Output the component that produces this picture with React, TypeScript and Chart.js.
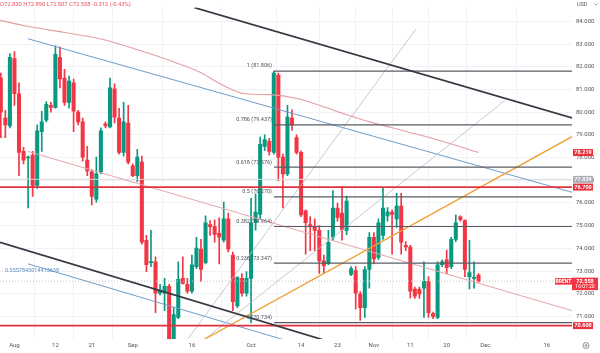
import React, { useEffect, useRef } from "react";
import { Chart, registerables } from "chart.js";
Chart.register(...registerables);

// ---- candle data (daily bars incl. Sunday sessions), index = bar number ----
const opens = [81.5,79.74,79.39,82.36,80.81,78.27,77.98,78.1,76.77,79.14,79.65,80.3,80.21,82.41,81.5,80.43,81.29,80.0,79.57,77.89,77.37,76.17,77.37,79.48,79.35,81.03,79.74,78.23,79.52,77.63,77.2,77.8,74.36,73.37,73.41,72.03,72.03,72.33,69.6,70.96,72.68,72.42,72.12,73.2,73.97,73.37,75.05,74.96,74.66,74.36,75.3,73.71,71.47,72.68,72.03,72.68,75.13,75.5,78.49,78.71,78.23,81.63,78.02,77.28,79.74,78.88,78.23,75.65,75.05,74.96,74.79,73.45,73.33,74.49,75.78,75.56,74.79,72.85,73.02,71.99,71.39,73.07,74.49,73.6,74.57,75.43,75.6,75.3,75.86,74.14,74.06,72.21,72.2,72.25,72.55,71.13,70.96,73.28,73.5,73.2,74.4,75.39,75.22,72.76,72.68,72.83];
const highs = [81.72,80.08,82.58,82.67,81.29,78.45,78.06,78.27,79.44,80.04,80.47,80.43,82.92,82.88,81.89,81.59,81.46,80.08,79.74,78.49,77.46,78.02,79.31,79.57,81.5,81.25,80.17,80.43,80.3,77.72,78.36,78.06,74.57,74.79,73.63,72.42,72.68,72.42,71.39,73.41,73.63,72.68,73.71,74.49,74.4,75.43,75.22,75.26,75.35,76.04,75.56,73.84,72.76,72.89,72.98,76.2,76.4,78.9,79.0,78.85,81.806,81.72,78.15,80.3,80.1,79.0,78.3,75.7,75.4,75.3,75.0,73.7,74.79,76.55,76.0,76.73,76.3,73.2,73.2,72.1,73.2,74.7,74.7,75.3,76.64,75.8,75.7,76.42,76.42,74.3,74.14,72.3,72.3,73.41,72.76,71.2,73.41,73.5,73.93,74.49,75.48,75.43,75.26,74.36,73.41,72.89];
const lows = [78.88,78.88,79.31,80.3,77.2,77.72,75.78,76.29,76.64,78.27,79.57,80.0,80.17,81.07,80.3,80.17,79.14,79.44,77.84,77.2,75.91,76.04,77.28,79.31,79.31,79.52,78.15,78.06,77.72,77.16,76.94,74.19,72.98,73.2,71.17,71.95,71.26,68.7,69.3,70.91,72.42,72.03,72.03,73.11,72.55,73.32,74.57,74.27,73.32,74.27,73.84,71.26,71.39,71.9,71.9,70.734,74.8,75.3,78.3,78.1,78.15,76.98,75.78,77.2,79.2,78.15,75.4,73.75,73.9,73.9,72.9,72.9,73.28,74.36,75.2,74.36,74.6,72.8,71.34,70.83,70.96,72.25,73.32,73.5,74.4,75.2,73.75,74.92,73.75,73.9,71.82,71.8,71.8,70.96,70.96,70.9,70.9,73.2,72.89,73.11,74.3,75.2,72.76,72.21,72.25,72.507];
const closes = [80.0,79.44,82.41,80.81,78.23,77.89,78.02,76.77,79.18,79.57,80.34,80.21,82.54,81.46,80.43,81.37,80.04,79.57,78.02,77.41,76.29,77.28,79.18,79.39,81.07,79.78,78.23,79.57,77.8,77.2,78.02,74.27,73.28,73.41,72.03,72.16,72.33,69.2,71.09,72.64,72.46,72.12,73.28,74.01,73.07,75.13,74.96,74.62,74.49,75.3,73.97,71.65,72.72,72.03,72.68,75.13,75.6,78.58,78.79,78.27,81.72,78.02,77.28,79.78,79.44,78.23,75.47,75.13,74.96,74.79,73.45,73.24,74.27,75.78,75.35,74.83,76.08,73.11,72.03,71.39,73.07,74.49,73.54,75.13,75.78,75.61,75.5,75.86,74.27,74.06,72.12,71.9,71.99,72.55,71.17,71.0,73.28,73.41,73.15,74.4,75.13,75.26,73.07,72.94,72.72,72.558];

// ---- axis ticks ----
const xTickIdx = [3, 12, 20, 29, 42, 55, 66, 74, 82, 90, 98, 106.5, 120];
const xTickLabels = ["Aug", "12", "21", "Sep", "16", "Oct", "14", "23", "Nov", "11", "20", "Dec", "16"];
const yTicks = [71, 72, 73, 74, 75, 76, 77, 78, 79, 80, 81, 82, 83, 84];
const xMin = -0.176;
const xMax = 125.54;
const yMin = 70.01;
const yMax = 84.603;

// ---- moving average (sampled) ----
const maIdx = [-0.2, 5.8, 10.8, 21.8, 30.6, 38.3, 43.8, 48.2, 53.7, 59.2, 65.1, 74.5, 81.1, 89.3, 96.5, 105];
const maVal = [84.04, 83.78, 83.61, 83.23, 82.71, 82.19, 81.76, 81.25, 80.81, 80.77, 80.6, 79.99, 79.57, 79.14, 78.75, 78.219];

// ---- drawings: [barIndex, price] anchors ----
const blackUpper = [[42.6, 84.6], [125.54, 79.75]];
const blackLower = [[-0.18, 74.27], [74.55, 69.75]];
const blueUpper = [[5.98, 83.23], [125.54, 76.47]];
const blueLower = [[5.98, 73.32], [74.55, 69.24]];
const pinkChannel = [[5.98, 78.27], [125.54, 71.26]];
const grayFan1 = [[40.48, 69.84], [91.25, 83.66]];
const grayFan2 = [[43.78, 69.84], [110.8, 80.51]];
const orangeTrend = [[44.88, 70.01], [125.54, 78.92]];
const fibRatios = [1, 0.786, 0.618, 0.5, 0.382, 0.236, 0];
const fibValues = [81.806, 79.437, 77.576, 76.27, 74.964, 73.347, 70.734];
const fibStartIdx = 60.05;
const redLevels = [76.7, 70.6];
const grayLevel = 77.039;
const lastPrice = 72.558;
const maLast = 78.219;
const channelLabel = "0.5557845014413638";
const headerText = "O72.830 H72.890 L72.507 C72.558 -0.312 (-0.43%)";

const GREEN = "#089981";
const RED = "#f23645";
const FONT = "Roboto, 'DejaVu Sans', sans-serif";

const lineDs = (pts: number[][], color: string, width: number, order: number, extra: any = {}) => ({
  type: "line",
  data: pts.map(([x, y]) => ({ x, y })),
  borderColor: color,
  borderWidth: width,
  pointRadius: 0,
  fill: false,
  tension: 0,
  order,
  ...extra,
});

const overlayPlugin = {
  id: "overlay",
  afterDraw(chart: any) {
    const { ctx } = chart;
    const xs = chart.scales.x;
    const ys = chart.scales.y;
    const X = (v: number) => xs.getPixelForValue(v);
    const Y = (v: number) => ys.getPixelForValue(v);
    ctx.save();
    ctx.textBaseline = "middle";

    // fib labels
    ctx.font = `5.5px ${FONT}`;
    ctx.fillStyle = "#50535e";
    ctx.textAlign = "right";
    fibRatios.forEach((r, k) => {
      ctx.fillText(`${r} (${fibValues[k].toFixed(3)})`, X(fibStartIdx) - 2, Y(fibValues[k]) - 5);
    });

    // channel label
    ctx.textAlign = "left";
    ctx.fillStyle = "#5b8ec2";
    ctx.fillText(channelLabel, X(blueLower[0][0]) - 23, Y(blueLower[0][1]) + 7);

    // header
    ctx.font = `5.8px ${FONT}`;
    ctx.fillStyle = "#ec4f5b";
    ctx.fillText(headerText, 0, 5);

    // USD
    ctx.font = `5.5px ${FONT}`;
    ctx.fillStyle = "#555";
    ctx.fillText("USD", 577, 4.5);
    ctx.strokeStyle = "#777";
    ctx.lineWidth = 0.7;
    ctx.beginPath();
    ctx.moveTo(594.5, 3.5);
    ctx.lineTo(596, 5);
    ctx.lineTo(597.5, 3.5);
    ctx.stroke();

    // badges
    ctx.font = `bold 5.5px ${FONT}`;
    const badge = (text: string, yc: number, bg: string, fg: string, x0 = 573, w = 20, h = 7) => {
      ctx.fillStyle = bg;
      ctx.fillRect(x0, yc - h / 2, w, h);
      ctx.fillStyle = fg;
      ctx.textAlign = "center";
      ctx.fillText(text, x0 + w / 2, yc + 0.3);
    };
    badge(maLast.toFixed(3), Y(maLast), "#e8323f", "#fff");
    badge(grayLevel.toFixed(3), Y(grayLevel), "#a9acb4", "#fff");
    redLevels.forEach((v) => badge(v.toFixed(3), Y(v), "#e8323f", "#fff"));

    // current price two-line badge + symbol tag
    const yp = Y(lastPrice);
    ctx.fillStyle = RED;
    ctx.fillRect(572, yp - 3.5, 26, 12.5);
    ctx.fillRect(555, yp - 3, 17, 6.5);
    ctx.fillStyle = "#fff";
    ctx.textAlign = "center";
    ctx.fillText(lastPrice.toFixed(3), 585, yp + 0.2);
    ctx.font = `5px ${FONT}`;
    ctx.fillText("16:07:20", 585, yp + 5.6);
    ctx.font = `bold 5px ${FONT}`;
    ctx.fillText("BRENT", 563.5, yp + 0.3);

    // settings gear
    ctx.strokeStyle = "#777";
    ctx.lineWidth = 0.8;
    ctx.beginPath();
    ctx.arc(586, 345.5, 3, 0, Math.PI * 2);
    ctx.stroke();
    ctx.beginPath();
    ctx.arc(586, 345.5, 1, 0, Math.PI * 2);
    ctx.stroke();
    ctx.restore();
  },
};

export default function App() {
  const ref = useRef<HTMLCanvasElement | null>(null);
  useEffect(() => {
    if (!ref.current) return;
    const idx = opens.map((_, i) => i);
    const colors = idx.map((i) => (closes[i] >= opens[i] ? GREEN : RED));
    const datasets: any[] = [
      {
        type: "bar",
        data: idx.map((i) => ({ x: i, y: [lows[i], highs[i]] })),
        backgroundColor: colors,
        barThickness: 1,
        grouped: false,
        order: 30,
      },
      {
        type: "bar",
        data: idx.map((i) => ({ x: i, y: [opens[i], closes[i]] })),
        backgroundColor: colors,
        barThickness: 3.4,
        minBarLength: 1,
        grouped: false,
        order: 29,
      },
      lineDs([[xMin, grayLevel], [xMax, grayLevel]], "#d9dbe0", 1, 28),
      lineDs([[xMin, lastPrice], [xMax, lastPrice]], "#c4c6cc", 1, 27, { borderDash: [1, 2] }),
      {
        type: "line",
        data: maIdx.map((x, k) => ({ x, y: maVal[k] })),
        borderColor: "#e59fa3",
        borderWidth: 1.1,
        pointRadius: 0,
        fill: false,
        tension: 0.4,
        cubicInterpolationMode: "monotone",
        order: 12,
      },
      lineDs(blueUpper, "#6f9cc8", 1, 11),
      lineDs(blueLower, "#6f9cc8", 1, 11),
      lineDs(pinkChannel, "#e7a5a9", 1, 11),
      lineDs(grayFan1, "#b9bcc4", 0.8, 10),
      lineDs(grayFan2, "#b9bcc4", 0.8, 10),
      lineDs(orangeTrend, "#efa033", 1.3, 9),
      ...fibValues.map((v) => lineDs([[fibStartIdx, v], [xMax, v]], "#595c65", 1.2, 8)),
      ...redLevels.map((v) => lineDs([[xMin, v], [xMax, v]], "#e3323f", 1.8, 7)),
      lineDs(blackUpper, "#363943", 1.7, 6),
      lineDs(blackLower, "#363943", 1.7, 6),
    ];

    const chart = new Chart(ref.current, {
      type: "bar",
      data: { datasets },
      options: {
        animation: false,
        responsive: false,
        devicePixelRatio: 1,
        events: [],
        layout: { padding: 0 },
        plugins: { legend: { display: false }, tooltip: { enabled: false } },
        scales: {
          x: {
            type: "linear",
            min: xMin,
            max: xMax,
            offset: false,
            grid: { color: "#f1f2f5", drawTicks: false },
            border: { display: false },
            ticks: {
              autoSkip: false,
              maxRotation: 0,
              padding: 3,
              color: "#555",
              font: { size: 6, family: FONT },
              callback: (_v: any, i: number) => xTickLabels[i] ?? "",
            },
            afterBuildTicks: (s: any) => {
              s.ticks = xTickIdx.map((v) => ({ value: v }));
            },
            afterFit: (s: any) => {
              s.height = 14;
            },
          },
          y: {
            type: "linear",
            position: "right",
            min: yMin,
            max: yMax,
            grid: { color: "#f1f2f5", drawTicks: false },
            border: { display: false },
            ticks: {
              padding: 4,
              color: "#555",
              font: { size: 6, family: FONT },
              callback: (v: any) => Number(v).toFixed(3),
            },
            afterBuildTicks: (s: any) => {
              s.ticks = yTicks.map((v) => ({ value: v }));
            },
            afterFit: (s: any) => {
              s.width = 28;
            },
          },
        },
      } as any,
      plugins: [overlayPlugin],
    });
    return () => chart.destroy();
  }, []);

  return (
    <div style={{ position: "absolute", left: 0, top: 0, width: 600, height: 353, background: "#fff" }}>
      <canvas ref={ref} width={600} height={353} style={{ display: "block" }} />
    </div>
  );
}
